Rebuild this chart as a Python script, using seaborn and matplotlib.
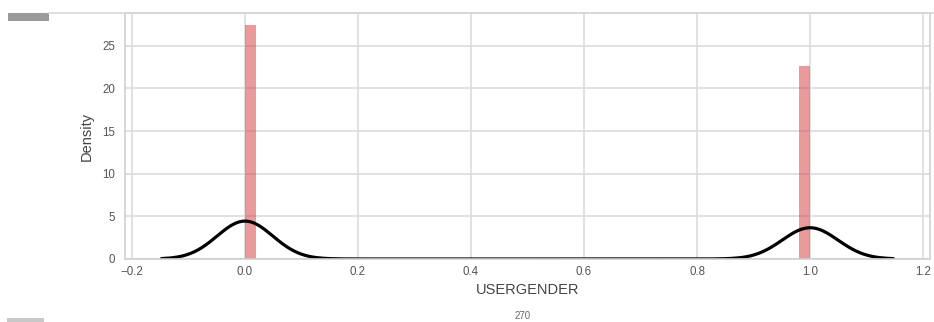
import numpy as np
import matplotlib
matplotlib.use("Agg")
import matplotlib.pyplot as plt
from matplotlib.patches import Rectangle
from matplotlib.lines import Line2D
import seaborn as sns

# Gender codes and how many users fall in each
gender_codes = [0, 1]
user_counts = [58100, 47900]

usergender = np.repeat(gender_codes, user_counts)

sns.set_theme(style="whitegrid")
plt.rcParams["font.family"] = ["Liberation Sans", "DejaVu Sans"]

fig = plt.figure(figsize=(9.34, 3.22), dpi=100)
ax = fig.add_axes([0.1338, 0.1957, 0.862, 0.7624])

sns.histplot(x=usergender, bins=50, stat="density", color="#d9474a",
             alpha=0.55, edgecolor="none", linewidth=0, ax=ax)
sns.kdeplot(x=usergender, color="black", linewidth=2.3, ax=ax)

ax.set_xlabel("USERGENDER", fontsize=10.5, color="#444444", labelpad=4)
ax.set_ylabel("Density", fontsize=10.5, color="#444444", labelpad=6)
ax.tick_params(axis="both", labelsize=8.3, labelcolor="#555555", length=0)
ax.tick_params(axis="x", pad=5)
ax.tick_params(axis="y", pad=7)
ax.grid(True, color="#dcdcdc", linewidth=1.2)
for s in ax.spines.values():
    s.set_color("#d0d0d0")
    s.set_linewidth(1.2)

# page furniture around the figure
fig.add_artist(Line2D([48 / 934, 1.0], [1 - 13 / 322, 1 - 13 / 322],
                      transform=fig.transFigure, color="#d8d8d8", lw=1.2))
fig.add_artist(Rectangle((8 / 934, 1 - 21 / 322), 41 / 934, 8 / 322,
                         transform=fig.transFigure, color="#9a9a9a", lw=0))
fig.add_artist(Rectangle((7 / 934, 0), 37 / 934, 4 / 322,
                         transform=fig.transFigure, color="#c8c8c8", lw=0))
fig.text(523 / 934, 1 / 322, "270", fontsize=7, color="#666666",
         ha="center", va="bottom")

fig.savefig("out.png", dpi=100)
